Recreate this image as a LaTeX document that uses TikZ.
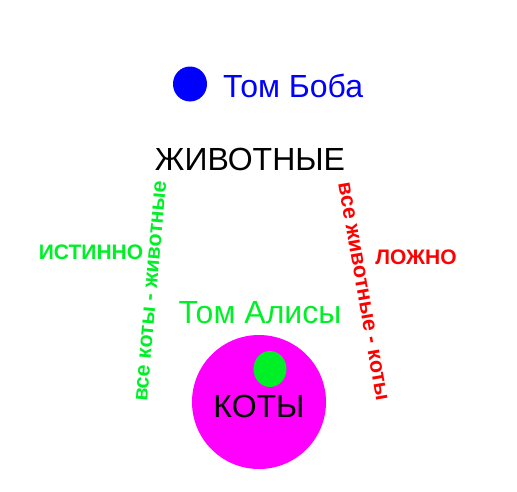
\documentclass[tikz,border=0pt]{standalone}
\usepackage{fontspec}
\setmainfont{Liberation Sans}
\usetikzlibrary{shapes.geometric}
\definecolor{lgreen}{RGB}{0,240,40}
\definecolor{lblue}{RGB}{0,0,255}
\definecolor{lred}{RGB}{255,0,0}
\definecolor{lmag}{RGB}{255,0,255}
\tikzset{
  bigtxt/.style={inner sep=0pt, font=\fontsize{32}{36}\selectfont},
  smalltxt/.style={inner sep=0pt, font=\fontsize{21}{24}\selectfont\bfseries},
  rottxt/.style={inner sep=0pt, font=\fontsize{21.5}{24}\selectfont\bfseries},
  dotstyle/.style={ellipse, inner sep=0pt, draw=none},
}
\begin{document}
\begin{tikzpicture}[x=1pt,y=-1pt]
\useasboundingbox (0,0) rectangle (517,491);
\fill[white] (0,0) rectangle (517,491);
% Bob
\node[dotstyle, fill=lblue, minimum width=34, minimum height=35] (bobdot) at (190,84) {};
\node[bigtxt, text=lblue, anchor=base west] (bobtxt) at (223,97) {Том Боба};
% animals
\node[bigtxt, anchor=center] (animals) at (250,159) {ЖИВОТНЫЕ};
% Alice
\node[bigtxt, text=lgreen, anchor=base] (alicetxt) at (260,323) {Том Алисы};
% cats
\node[circle, fill=lmag, minimum size=134, inner sep=0pt] (cats) at (259,402) {};
\node[dotstyle, fill=lgreen, minimum width=33, minimum height=36] (alicedot) at (270,369) {};
\node[bigtxt, anchor=center] (catstxt) at (259,406) {КОТЫ};
% labels
\node[smalltxt, text=lgreen] (true) at (91,252) {ИСТИННО};
\node[smalltxt, text=lred] (false) at (416,257) {ЛОЖНО};
\node[rottxt, text=lgreen, rotate=85] (allcats) at (151,291) {все коты - животные};
\node[rottxt, text=lred, rotate=-80] (allanimals) at (363,292) {все животные - коты};
\end{tikzpicture}
\end{document}
